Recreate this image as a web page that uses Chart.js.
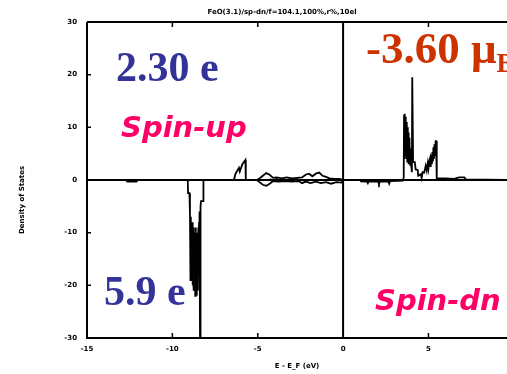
<!DOCTYPE html>
<html><head><meta charset="utf-8">
<script src="https://cdn.jsdelivr.net/npm/chart.js@4/dist/chart.umd.min.js"></script>
<style>
html,body{margin:0;padding:0;background:#fff;overflow:hidden}
#wrap{position:relative;width:507px;height:374px}
</style></head><body>
<div id="wrap"><canvas id="c" width="507" height="374"></canvas></div>
<script>
// ---- data ----
const titleText = "FeO(3.1)/sp-dn/f=104.1,100%,r%,10el";
const xTitle = "E - E_F (eV)";
const yTitle = "Density of States";
const xTicks = [-15, -10, -5, 0, 5];
const yTicks = [-30, -20, -10, 0, 10, 20, 30];

// main trace (energy, DOS)
const energyMain = [-15, -12.7, -12.65, -12.1, -12.05, -9.1, -9.08, -9.0, -8.97,
  -8.94, -8.92, -8.9, -8.88, -8.86, -8.84, -8.82, -8.8, -8.78, -8.76, -8.74, -8.72, -8.7, -8.68, -8.66, -8.64, -8.62, -8.6, -8.58, -8.56, -8.54, -8.52, -8.5, -8.48, -8.46, -8.44, -8.42,
  -8.4, -8.38, -8.36, -8.34, -8.32, -8.3, -8.2, -8.18,
  -6.4, -6.3, -6.1, -6.05, -5.9, -5.72, -5.7, -5.05,
  -4.9, -4.7, -4.5, -4.3, -4.1, -3.9, -3.6, -3.3, -3.0, -2.7, -2.4, -2.2, -2.0, -1.8, -1.6, -1.4, -1.2, -1.0, -0.8, -0.5, -0.2, 0,
  1.0, 1.05, 1.4, 1.45, 1.5, 2.05, 2.1, 2.15, 2.65, 2.7, 2.75, 3.5,
  3.55, 3.57, 3.6, 3.62, 3.64, 3.66, 3.68, 3.7, 3.72, 3.74, 3.76, 3.78, 3.8, 3.82, 3.84, 3.86, 3.88, 3.9, 3.93, 3.96, 4.0, 4.03, 4.05, 4.08, 4.1, 4.2, 4.25, 4.37, 4.4, 4.55, 4.6, 4.66, 4.75, 4.84, 4.9, 4.96, 5.0, 5.05, 5.1, 5.13, 5.17, 5.2, 5.23, 5.26, 5.29, 5.32, 5.35, 5.38, 5.42, 5.45, 5.47,
  5.5, 6.0, 6.5, 6.8, 7.1, 7.2, 9.6];
const dosMain = [0, 0, -0.3, -0.3, 0, 0, -2.5, -2.5, -6,
  -19, -7, -18, -9, -19, -8, -20, -10, -19, -9, -21, -11, -20, -10, -22, -9, -21, -12, -22, -10, -20, -11, -21, -9, -18, -8, -15,
  -6, -30, -30, -5, -4, -4, -4, 0,
  0, 1.2, 2.3, 1.6, 3.0, 3.8, 0, 0,
  0.3, 0.8, 1.3, 1.0, 0.4, 0.5, 0.3, 0.5, 0.3, 0.4, 0.5, 1.0, 1.2, 0.7, 1.2, 1.4, 0.8, 0.6, 0.3, 0.2, 0.2, 0,
  0, -0.25, -0.3, -0.6, -0.25, -0.3, -0.7, -0.3, -0.3, -0.7, -0.2, -0.1,
  0.5, 12.4, 4, 12.6, 5, 12, 4.5, 11, 4, 10.5, 3.5, 10, 3.5, 9, 3, 8, 3, 7, 2.9, 6, 2.5, 1.5, 19.5, 19.5, 3.4, 3.4, 2, 1.9, 0.8, 1.1, 0.4, 1.5, 1.4, 2.7, 1.8, 3.2, 2.2, 3.6, 4.2, 2.5, 4.8, 3, 5.3, 3.5, 6.2, 4, 6.8, 4.5, 7.4, 7.4, 0,
  0.3, 0.3, 0.2, 0.5, 0.5, 0.1, 0];

// second (lower) trace in the -5..0 eV band
const energyLow = [-5.05, -4.9, -4.7, -4.5, -4.3, -4.1, -3.8, -3.4, -3.0, -2.6, -2.4, -2.2, -1.9, -1.6, -1.3, -1.0, -0.7, -0.4, -0.1, 0];
const dosLow = [0, -0.4, -0.9, -1.1, -0.7, -0.2, -0.3, -0.2, -0.3, -0.2, -0.6, -0.3, -0.6, -0.3, -0.6, -0.4, -0.7, -0.4, -0.5, 0];

// third trace filling the dark band between -4.3 and -2.4 eV
const energyBand = [-4.3, -4.1, -3.9, -3.7, -3.5, -3.3, -3.1, -2.9, -2.7, -2.5, -2.4];
const dosBand = [0.2, -0.1, 0.2, -0.1, 0.2, -0.1, 0.2, -0.1, 0.2, -0.1, 0.1];

const zip = (xs, ys) => xs.map((v, i) => ({x: v, y: ys[i]}));

const overlay = {
  id: 'overlay',
  afterDatasetsDraw(chart) {
    const {ctx, chartArea: a, scales: {x, y}} = chart;
    ctx.save();
    ctx.strokeStyle = '#000';
    ctx.lineWidth = 2;
    const y0 = y.getPixelForValue(0), x0 = x.getPixelForValue(0);
    ctx.beginPath();
    ctx.moveTo(a.left, a.top); ctx.lineTo(a.right + 4, a.top);
    ctx.moveTo(a.left, a.top); ctx.lineTo(a.left, a.bottom); ctx.lineTo(a.right + 4, a.bottom);
    ctx.moveTo(a.left, y0); ctx.lineTo(a.right + 4, y0);
    ctx.moveTo(x0, a.top); ctx.lineTo(x0, a.bottom);
    ctx.stroke();
    ctx.lineWidth = 1.5;
    ctx.beginPath();
    yTicks.forEach(v => { if (v === 0 || Math.abs(v) === 30) return; const p = y.getPixelForValue(v); ctx.moveTo(a.left, p); ctx.lineTo(a.left + 4, p); });
    xTicks.forEach(v => { if (v === 0 || v === -15) return; const p = x.getPixelForValue(v); ctx.moveTo(p, a.top); ctx.lineTo(p, a.top + 5); ctx.moveTo(p, a.bottom); ctx.lineTo(p, a.bottom - 5); });
    ctx.stroke();
    ctx.restore();
  },
  afterDraw(chart) {
    const {ctx} = chart;
    ctx.save();
    ctx.fillStyle = '#000';
    ctx.font = 'bold 7px "DejaVu Sans"';
    ctx.textAlign = 'center'; ctx.textBaseline = 'middle';
    ctx.fillText(titleText, 282, 12);
    ctx.translate(22, 200); ctx.rotate(-Math.PI / 2);
    ctx.fillText(yTitle, 0, 0);
    ctx.restore();

    ctx.save();
    ctx.textAlign = 'left'; ctx.textBaseline = 'alphabetic';
    ctx.fillStyle = '#333399';
    ctx.font = 'bold 42px "Liberation Serif"';
    ctx.fillText('2.30 e', 116, 81);
    ctx.fillText('5.9 e', 104, 305);
    ctx.fillStyle = '#cc3300';
    ctx.font = 'bold 45px "Liberation Serif"';
    ctx.fillText('-3.60 \u03BC', 366, 63);
    const w = ctx.measureText('-3.60 \u03BC').width;
    ctx.font = 'bold 27px "Liberation Serif"';
    ctx.fillText('B', 366 + w, 72);
    ctx.fillStyle = '#ff0066';
    ctx.font = 'italic bold 29px "DejaVu Sans"';
    ctx.fillText('Spin-up', 121, 137);
    ctx.fillText('Spin-dn', 375, 310);
    ctx.restore();
  }
};

new Chart(document.getElementById('c'), {
  type: 'line',
  data: {
    datasets: [
      {data: zip(energyMain, dosMain), borderColor: '#000', borderWidth: 1.8, pointRadius: 0, tension: 0, fill: false},
      {data: zip(energyLow, dosLow), borderColor: '#000', borderWidth: 1.8, pointRadius: 0, tension: 0, fill: false},
      {data: zip(energyBand, dosBand), borderColor: '#000', borderWidth: 1.8, pointRadius: 0, tension: 0, fill: false}
    ]
  },
  options: {
    responsive: false,
    animation: false,
    devicePixelRatio: 1,
    layout: {padding: {top: 22, right: 0, left: 0, bottom: 0}},
    plugins: {legend: {display: false}, tooltip: {enabled: false}, title: {display: false}},
    scales: {
      x: {
        type: 'linear', min: -15, max: 9.6,
        afterBuildTicks: s => { s.ticks = xTicks.map(v => ({value: v})); },
        afterFit: s => { s.height = 36; },
        grid: {display: false, drawTicks: false},
        border: {display: false},
        ticks: {color: '#000', font: {family: 'DejaVu Sans', size: 7, weight: 'bold'}, padding: 7, maxRotation: 0},
        title: {display: true, text: xTitle, color: '#000', font: {family: 'DejaVu Sans', size: 7, weight: 'bold'}, padding: {top: 0, bottom: 4}}
      },
      y: {
        type: 'linear', min: -30, max: 30,
        afterBuildTicks: s => { s.ticks = yTicks.map(v => ({value: v})); },
        afterFit: s => { s.width = 87; },
        grid: {display: false, drawTicks: false},
        border: {display: false},
        ticks: {color: '#000', font: {family: 'DejaVu Sans', size: 7, weight: 'bold'}, padding: 10}
      }
    }
  },
  plugins: [overlay]
});
</script>
</body></html>
